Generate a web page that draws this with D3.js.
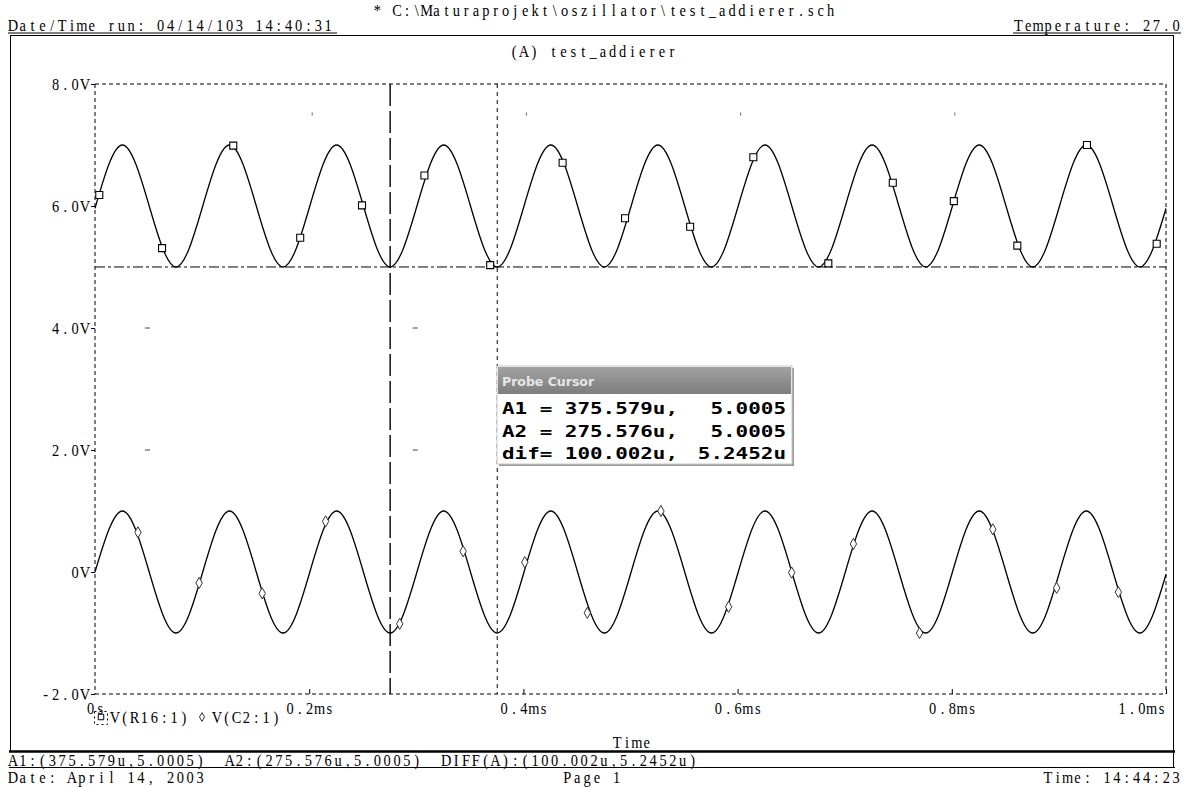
<!DOCTYPE html>
<html>
<head>
<meta charset="utf-8">
<script src="https://cdn.jsdelivr.net/npm/d3@7"></script>
<style>
  body { margin: 0; background: #fff; }
  svg text { fill: #000; }
  .mono { font-family: "Liberation Serif", "DejaVu Serif", serif; font-size: 16px; }
</style>
</head>
<body>
<svg id="chart" width="1187" height="787"></svg>
<script>
// ---- axis ticks -----------------------------------------------------------
const timeTicks = [0, 200, 400, 600, 800, 1000];            // µs
const timeTickLabels = ["0s", "0.2ms", "0.4ms", "0.6ms", "0.8ms", "1.0ms"];
const voltTicks = [8, 6, 4, 2, 0, -2];                       // V
const voltTickLabels = ["8.0V", "6.0V", "4.0V", "2.0V", "0V", "-2.0V"];

// ---- V(R16:1): trace turning points (µs, V) -------------------------------
const r16Time = [0, 25.6, 75.6, 125.6, 175.6, 225.6, 275.6, 325.6, 375.6, 425.6, 475.6,
                 525.6, 575.6, 625.6, 675.6, 725.6, 775.6, 825.6, 875.6, 925.6, 975.6, 1000];
const r16Volt = [5.96, 7.0, 5.0, 7.0, 5.0, 7.0, 5.0, 7.0, 5.0, 7.0, 5.0,
                 7.0, 5.0, 7.0, 5.0, 7.0, 5.0, 7.0, 5.0, 7.0, 5.0, 5.96];
// square symbols along V(R16:1)
const r16MarkTime = [4.0, 62.6, 129.1, 191.6, 249.3, 307.6, 369.0, 436.6, 494.9,
                     555.7, 614.7, 684.7, 744.9, 801.9, 861.2, 926.2, 991.3];
const r16MarkVolt = [6.18, 5.31, 6.99, 5.48, 6.01, 6.50, 5.03, 6.71, 5.80,
                     5.66, 6.80, 5.06, 6.38, 6.08, 5.35, 7.0, 5.38];

// ---- V(C2:1): trace turning points (µs, V) --------------------------------
const c2Time = [0, 25.6, 75.6, 125.6, 175.6, 225.6, 275.6, 325.6, 375.6, 425.6, 475.6,
                525.6, 575.6, 625.6, 675.6, 725.6, 775.6, 825.6, 875.6, 925.6, 975.6, 1000];
const c2Volt = [0.0, 1.0, -1.0, 1.0, -1.0, 1.0, -1.0, 1.0, -1.0, 1.0, -1.0,
                1.0, -1.0, 1.0, -1.0, 1.0, -1.0, 1.0, -1.0, 1.0, -1.0, -0.04];
// diamond symbols along V(C2:1)
const c2MarkTime = [40.1, 97.2, 156.1, 215.3, 284.5, 343.7, 401.3, 459.7,
                    528.4, 591.6, 650.5, 708.1, 769.9, 838.3, 897.9, 955.5];
const c2MarkVolt = [0.65, -0.18, -0.35, 0.83, -0.85, 0.34, 0.16, -0.67,
                    1.0, -0.57, -0.01, 0.46, -1.0, 0.70, -0.26, -0.33];

// ---- probe cursors --------------------------------------------------------
const cursorA1 = [375.579, 5.0005];
const cursorA2 = [275.576, 5.0005];
const cursorDif = [100.002, 5.2452];   // µs, µV
const cursorRows = [
  ["A1 = 375.579u,", "5.0005"],
  ["A2 = 275.576u,", "5.0005"],
  ["dif= 100.002u,", "5.2452u"]
];
const cursorSummary = "A1:(375.579u,5.0005)  A2:(275.576u,5.0005)  DIFF(A):(100.002u,5.2452u)";

// small stray marks left on the plot (µs, V)
const strayDashes = [[48.5, 4], [298.5, 4], [48.5, 2], [298.5, 2]];
const strayTicks = [200, 400, 600, 800];

const svg = d3.select("#chart");
const PITCH = 9.85;   // fixed character cell of the printer font
const SQUEEZE = 0.9;  // horizontal glyph compression

const x = d3.scaleLinear().domain([0, 1000]).range([95, 1166]);
const y = d3.scaleLinear().domain([-2, 8]).range([694, 84]);

// Lay a string out on a fixed character grid: every glyph centred in its own cell,
// glyphs narrowed so wide letters stay inside their cell.
function setMono(t, str, x0, anchor, pitch) {
  const n = str.length;
  const start = anchor === "end" ? x0 - n * pitch : anchor === "middle" ? x0 - n * pitch / 2 : x0;
  const yAttr = t.attr("y");
  t.attr("class", "mono").attr("font-family", null).attr("font-size", null)
    .attr("text-anchor", "middle")
    .attr("transform", `translate(${start},0) scale(${SQUEEZE},1)`)
    .attr("x", d3.range(n).map(i => ((i + 0.5) * pitch / SQUEEZE).toFixed(2)).join(" "))
    .text(str.replace(/ /g, "\u00A0"));
  if (yAttr === null) t.attr("y", 0);
  return t;
}
function monoText(parent, str, x0, y0, anchor = "start", pitch = PITCH) {
  const t = parent.append("text").attr("y", y0);
  return setMono(t, str, x0, anchor, pitch);
}
function monoAxisText(sel, anchor, pitch = PITCH) {
  sel.each(function () {
    const t = d3.select(this);
    setMono(t, t.text(), +t.attr("x") || 0, anchor, pitch);
  });
}

// ---- page header ----------------------------------------------------------
monoText(svg, "* C:\\Maturaprojekt\\oszillator\\test_addierer.sch", 604, 16, "middle");
monoText(svg, "Date/Time run: 04/14/103 14:40:31", 8, 31);
svg.append("line").attr("x1", 8).attr("x2", 337).attr("y1", 33).attr("y2", 33).attr("stroke", "#000");
monoText(svg, "Temperature: 27.0", 1181, 31, "end");
svg.append("line").attr("x1", 1013).attr("x2", 1181).attr("y1", 33).attr("y2", 33).attr("stroke", "#000");

// outer frame
svg.append("rect").attr("x", 10.5).attr("y", 35.5).attr("width", 1163).attr("height", 716)
  .attr("fill", "none").attr("stroke", "#000");
svg.append("line").attr("x1", 9).attr("x2", 1175).attr("y1", 751.5).attr("y2", 751.5)
  .attr("stroke", "#000").attr("stroke-width", 2.5);
svg.append("line").attr("x1", 9).attr("x2", 1175).attr("y1", 767.5).attr("y2", 767.5)
  .attr("stroke", "#000");
svg.append("line").attr("x1", 1173.5).attr("x2", 1173.5).attr("y1", 751).attr("y2", 768)
  .attr("stroke", "#000");

monoText(svg, "(A) test_addierer", 593, 57, "middle");

// ---- plot box (dashed) ----------------------------------------------------
const dashAxis = "4,3";
const box = svg.append("g").attr("stroke", "#000").attr("fill", "none");
box.append("line").attr("x1", x(0)).attr("x2", x(1000)).attr("y1", y(8)).attr("y2", y(8))
  .attr("stroke-dasharray", dashAxis);
box.append("line").attr("x1", x(0)).attr("x2", x(1000)).attr("y1", y(-2)).attr("y2", y(-2))
  .attr("stroke-dasharray", dashAxis);
box.append("line").attr("x1", x(0)).attr("x2", x(0)).attr("y1", y(8)).attr("y2", y(-2))
  .attr("stroke-dasharray", dashAxis);
box.append("line").attr("x1", x(1000)).attr("x2", x(1000)).attr("y1", y(8)).attr("y2", y(-2))
  .attr("stroke-dasharray", dashAxis);

// y axis
const yAxis = d3.axisLeft(y).tickValues(voltTicks).tickSize(4).tickPadding(1)
  .tickFormat((d, i) => voltTickLabels[i]);
const gy = svg.append("g").attr("transform", `translate(${x(0)},0)`).call(yAxis);
gy.select(".domain").remove();
gy.selectAll("line").attr("stroke", "#000");
gy.selectAll("text").attr("dy", null).attr("y", 5);
monoAxisText(gy.selectAll("text"), "end");

// x axis
const xAxis = d3.axisBottom(x).tickValues(timeTicks).tickSize(-5).tickPadding(12)
  .tickFormat((d, i) => timeTickLabels[i]);
const gx = svg.append("g").attr("transform", `translate(0,${y(-2)})`).call(xAxis);
gx.select(".domain").remove();
gx.selectAll("line").attr("stroke", "#000");
gx.selectAll(".tick").filter(d => d === 0).select("line").remove();
gx.selectAll("text").attr("dy", null).attr("y", 20);
monoAxisText(gx.selectAll(".tick").filter(d => d !== 1000).select("text"), "middle");
monoAxisText(gx.selectAll(".tick").filter(d => d === 1000).select("text"), "end");

monoText(svg, "Time", 632, 748, "middle");

// stray marks
svg.append("g").selectAll("line").data(strayDashes).join("line")
  .attr("x1", d => x(d[0]) - 2).attr("x2", d => x(d[0]) + 3)
  .attr("y1", d => y(d[1])).attr("y2", d => y(d[1]))
  .attr("stroke", "#444");
svg.append("g").selectAll("line").data(strayTicks).join("line")
  .attr("x1", d => x(d) + 3).attr("x2", d => x(d) + 3)
  .attr("y1", y(7.5) - 2).attr("y2", y(7.5) + 1)
  .attr("stroke", "#666");

// ---- cursors ---------------------------------------------------------------
svg.append("line").attr("x1", x(0)).attr("x2", x(1000))
  .attr("y1", y(cursorA1[1])).attr("y2", y(cursorA1[1]))
  .attr("stroke", "#000").attr("stroke-dasharray", "10,3,3,3");
svg.append("line").attr("x1", x(cursorA2[0])).attr("x2", x(cursorA2[0]))
  .attr("y1", y(8)).attr("y2", y(-2))
  .attr("stroke", "#000").attr("stroke-width", 1.4).attr("stroke-dasharray", "22,5");
svg.append("line").attr("x1", x(cursorA1[0])).attr("x2", x(cursorA1[0]))
  .attr("y1", y(8)).attr("y2", y(-2))
  .attr("stroke", "#000").attr("stroke-dasharray", "4,4");

// ---- traces ----------------------------------------------------------------
const lineGen = d3.line().x(d => x(d[0])).y(d => y(d[1])).curve(d3.curveMonotoneX);
svg.append("path").datum(r16Time.map((t, i) => [t, r16Volt[i]]))
  .attr("d", lineGen).attr("fill", "none").attr("stroke", "#000").attr("stroke-width", 1.3);
svg.append("path").datum(c2Time.map((t, i) => [t, c2Volt[i]]))
  .attr("d", lineGen).attr("fill", "none").attr("stroke", "#000").attr("stroke-width", 1.3);

// symbols
const sq = d3.symbol().type(d3.symbolSquare).size(49);
const dia = d3.symbol().type(d3.symbolDiamond).size(36);
svg.append("g").selectAll("path").data(r16MarkTime.map((t, i) => [t, r16MarkVolt[i]])).join("path")
  .attr("d", sq).attr("transform", d => `translate(${x(d[0])},${y(d[1])})`)
  .attr("fill", "#fff").attr("stroke", "#000").attr("stroke-width", 1.1);
svg.append("g").selectAll("path").data(c2MarkTime.map((t, i) => [t, c2MarkVolt[i]])).join("path")
  .attr("d", dia).attr("transform", d => `translate(${x(d[0])},${y(d[1])})`)
  .attr("fill", "#fff").attr("stroke", "#333").attr("stroke-width", 1);

// ---- legend ----------------------------------------------------------------
const lg = svg.append("g");
lg.append("rect").attr("x", 94.5).attr("y", 711.5).attr("width", 13).attr("height", 13)
  .attr("fill", "none").attr("stroke", "#000").attr("stroke-dasharray", "2,3");
lg.append("path").attr("d", d3.symbol().type(d3.symbolSquare).size(30))
  .attr("transform", "translate(101,717)").attr("fill", "#fff").attr("stroke", "#000");
monoText(lg, "V(R16:1)", 110, 723);
lg.append("path").attr("d", d3.symbol().type(d3.symbolDiamond).size(22))
  .attr("transform", "translate(202,717)").attr("fill", "#fff").attr("stroke", "#333");
monoText(lg, "V(C2:1)", 212, 723);

// ---- cursor summary & footer ----------------------------------------------
monoText(svg, cursorSummary, 8, 766);
monoText(svg, "Date: April 14, 2003", 8, 783);
monoText(svg, "Page 1", 592, 783, "middle");
monoText(svg, "Time: 14:44:23", 1181, 783, "end");

// ---- probe cursor window --------------------------------------------------
const pw = svg.append("g").attr("transform", "translate(497,366)");
const grad = svg.append("defs").append("linearGradient").attr("id", "bar")
  .attr("x1", 0).attr("x2", 0).attr("y1", 0).attr("y2", 1);
grad.append("stop").attr("offset", 0).attr("stop-color", "#a2a2a2");
grad.append("stop").attr("offset", 1).attr("stop-color", "#7e7e7e");
pw.append("rect").attr("x", 2).attr("y", 2).attr("width", 295).attr("height", 98).attr("fill", "#9a9a9a");
pw.append("rect").attr("x", 0).attr("y", 0).attr("width", 295).attr("height", 98)
  .attr("fill", "#fff").attr("stroke", "#c8c8c8");
pw.append("rect").attr("x", 1).attr("y", 1).attr("width", 293).attr("height", 27).attr("fill", "url(#bar)");
pw.append("text").attr("x", 5).attr("y", 20)
  .style("font-family", "'DejaVu Sans', Verdana, sans-serif").style("font-weight", "bold")
  .style("font-size", "12.5px").style("fill", "#e6e6e6").text("Probe Cursor");
cursorRows.forEach((r, i) => {
  const yy = 48 + i * 22.5;
  pw.append("text").attr("x", 5).attr("y", yy)
    .style("font-family", "'DejaVu Sans Mono', monospace").style("font-weight", "bold")
    .style("font-size", "15px").attr("textLength", 176).attr("lengthAdjust", "spacingAndGlyphs")
    .text(r[0]);
  pw.append("text").attr("x", 289).attr("y", yy).attr("text-anchor", "end")
    .style("font-family", "'DejaVu Sans Mono', monospace").style("font-weight", "bold")
    .style("font-size", "15px").attr("textLength", r[1].length * 12.6).attr("lengthAdjust", "spacingAndGlyphs")
    .text(r[1]);
});
</script>
</body>
</html>
